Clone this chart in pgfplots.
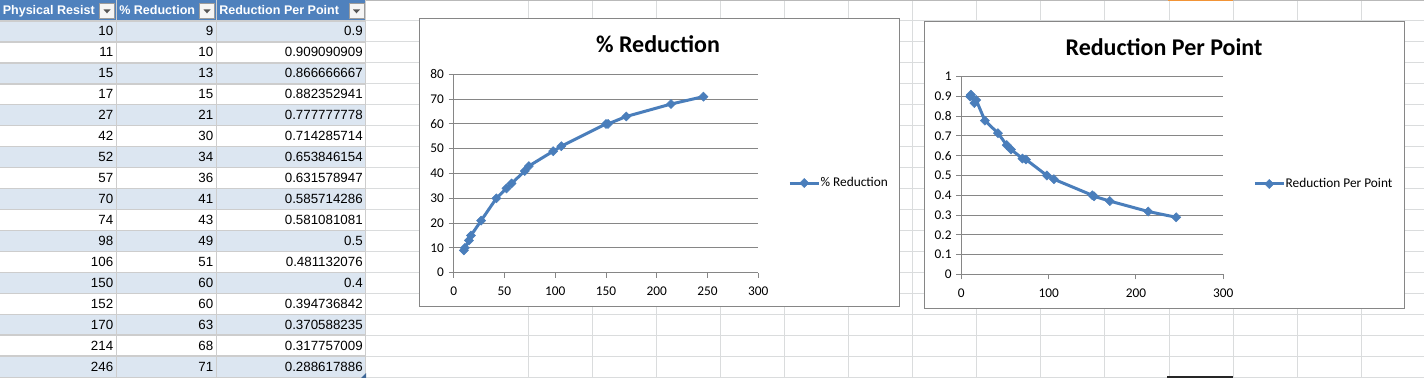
\documentclass[border=0pt]{standalone}
\usepackage{fontspec}
\setmainfont{Liberation Sans}
\newfontfamily\calibri{Carlito}
\usepackage{pgfplots}
\pgfplotsset{compat=1.18}
\definecolor{hdrblue}{HTML}{4F81BD}
\definecolor{rowblue}{HTML}{DCE6F1}
\definecolor{tblline}{HTML}{CDCDCD}
\definecolor{sheetgrid}{HTML}{DADCDD}
\definecolor{chartgray}{HTML}{868686}
\definecolor{series}{HTML}{4A7EBB}
\definecolor{ddgray}{HTML}{9C9C9C}
\definecolor{ddarrow}{HTML}{555555}
\definecolor{selorange}{HTML}{F29436}

\begin{document}
\begin{tikzpicture}
\begin{scope}[x=0.75pt,y=-0.75pt]
  \useasboundingbox (0,0) rectangle (1424,378);
  \fill[white] (0,0) rectangle (1424,378);
  % sheet gridlines
  \foreach \k in {1,...,18} {\draw[sheetgrid,line width=0.75pt] (366,{20.95*\k}) -- (1424,{20.95*\k});}
  \foreach \k in {0,...,13} {\draw[sheetgrid,line width=0.75pt] ({528+64.1*\k},0) -- ({528+64.1*\k},378);}
  \draw[gray!55,line width=0.75pt] (366,0.5) -- (1424,0.5);
  \draw[selorange,line width=1.2pt] (1168,0.6) -- (1233,0.6);
  \fill[black!85] (1167,376.3) rectangle (1233,378);
  % table header
  \fill[hdrblue] (0,0) rectangle (366,21);
  % data rows
  \foreach \a/\b/\c [count=\i] in {10/9/0.9, 11/10/0.909090909, 15/13/0.866666667, 17/15/0.882352941, 27/21/0.777777778, 42/30/0.714285714, 52/34/0.653846154, 57/36/0.631578947, 70/41/0.585714286, 74/43/0.581081081, 98/49/0.5, 106/51/0.481132076, 150/60/0.4, 152/60/0.394736842, 170/63/0.370588235, 214/68/0.317757009, 246/71/0.288617886} {
    \ifodd\i \fill[rowblue] (0,{20.95*\i}) rectangle (366,{20.95*(\i+1)}); \fi
    \node[anchor=base east,inner sep=0pt] at (113.5,{20.95*\i+15}) {\a};
    \node[anchor=base east,inner sep=0pt] at (213.5,{20.95*\i+15}) {\b};
    \node[anchor=base east,inner sep=0pt] at (363,{20.95*\i+15}) {\c};
  }
  \foreach \k in {1,...,17} {\draw[tblline,line width=1.1pt] (0,{20.95*\k}) -- (366,{20.95*\k});}
  \draw[tblline,line width=1.1pt] (0,377.5) -- (366,377.5);
  \foreach \xx in {116.5,216.5,365.5} {\draw[tblline,line width=1.3pt] (\xx,0) -- (\xx,378);}
  \fill[hdrblue!80!black] (366,378) -- (366,373) -- (361,378) -- cycle;
  % header text
  \begin{scope}[every node/.style={anchor=base west,inner sep=0pt,text=white,font=\bfseries\fontsize{9.4}{11}\selectfont}]
    \node at (2.5,15) {Physical Resist};
    \node at (119,15) {\% Reduction};
    \node at (219,15) {Reduction Per Point};
  \end{scope}
  \foreach \dx in {99.5,199.5,349} {
    \filldraw[draw=ddgray,fill=black!4,line width=0.75pt] (\dx,3.5) rectangle ++(15,15);
    \fill[ddarrow] ({\dx+4},9.5) -- ++(7,0) -- ++(-3.5,3.8) -- cycle;
  }
  % chart frames
  \filldraw[draw=chartgray,fill=white,line width=0.75pt] (419.5,18.5) rectangle (899,306);
  \filldraw[draw=chartgray,fill=white,line width=0.75pt] (924.5,21.5) rectangle (1404,308);
\end{scope}

\pgfplotsset{
  excel/.style={
    scale only axis,
    axis lines=left,
    axis line style={-,draw=chartgray,line width=0.75pt},
    ymajorgrids,
    grid style={draw=chartgray,line width=0.75pt},
    tick align=outside,
    major tick length=3.75pt,
    tick style={draw=chartgray,line width=0.75pt},
    tick label style={font=\calibri\fontsize{10}{12}\selectfont, text=black},
    xticklabel style={yshift=-3.6pt},
    /pgf/number format/assume math mode=true,
    every axis title shift=0pt,
    title style={font=\calibri\bfseries\fontsize{18}{21}\selectfont, anchor=center},
    legend style={draw=none, fill=none, anchor=west, inner sep=0pt,
      font=\calibri\fontsize{10}{12}\selectfont, nodes={inner sep=0.2pt}},
    legend image code/.code={\draw[##1, mark repeat=2, mark phase=2] plot coordinates {(0pt,0pt) (10.9pt,0pt) (21.8pt,0pt)};},
    clip=false,
  },
  serstyle/.style={series, line width=2.25pt, mark=square*, mark size=2.4pt,
    mark options={fill=series, draw=series, line width=0.4pt, solid, rotate=45}},
}

\begin{axis}[excel,
  at={(453.7*0.75pt,-272.7*0.75pt)}, anchor=south west,
  width=228.45pt, height=148.8pt,
  xmin=0, xmax=300, ymin=0, ymax=80,
  xtick={0,50,100,150,200,250,300}, ytick={0,10,20,30,40,50,60,70,80},
  title={\% Reduction},
  title style={at={(axis description cs:0.6707,1.1527)}},
  legend style={at={(axis description cs:1.0975,0.452)}},
]
\addplot[serstyle] coordinates {
(10,9) (11,10) (15,13) (17,15) (27,21) (42,30) (52,34) (57,36) (70,41) (74,43)
(98,49) (106,51) (150,60) (152,60) (170,63) (214,68) (246,71)};
\legend{\% Reduction}
\end{axis}

\begin{axis}[excel,
  at={(961.3*0.75pt,-274.3*0.75pt)}, anchor=south west,
  width=196.5pt, height=148.2pt,
  xmin=0, xmax=300, ymin=0, ymax=1,
  xtick={0,100,200,300}, ytick={0,0.1,0.2,0.3,0.4,0.5,0.6,0.7,0.8,0.9,1},
  title={Reduction Per Point},
  title style={at={(axis description cs:0.7737,1.1503)}},
  legend style={at={(axis description cs:1.1134,0.457)}},
]
\addplot[serstyle] coordinates {
(10,0.9) (11,0.909090909) (15,0.866666667) (17,0.882352941) (27,0.777777778)
(42,0.714285714) (52,0.653846154) (57,0.631578947) (70,0.585714286) (74,0.581081081)
(98,0.5) (106,0.481132076) (150,0.4) (152,0.394736842) (170,0.370588235)
(214,0.317757009) (246,0.288617886)};
\legend{Reduction Per Point}
\end{axis}
\end{tikzpicture}
\end{document}
